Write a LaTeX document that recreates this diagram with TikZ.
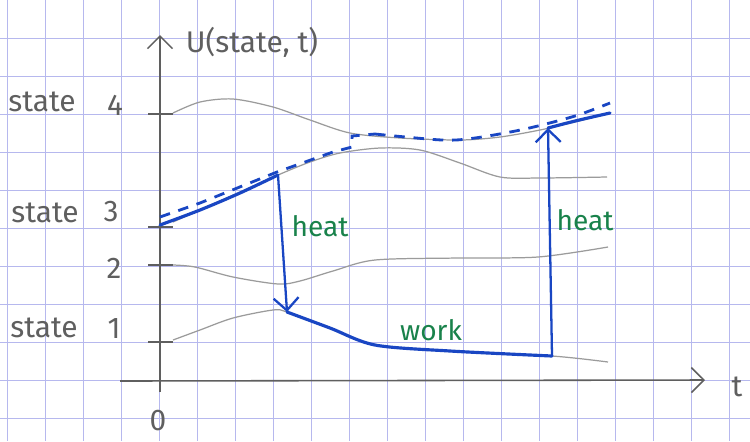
\documentclass[tikz,border=0pt]{standalone}
\usepackage{fontspec}
\setmainfont{Fira Sans}
\usetikzlibrary{arrows.meta}
\definecolor{GridLilac}{RGB}{182,184,238}
\definecolor{PenBlue}{RGB}{25,70,195}
\definecolor{PenGreen}{RGB}{25,130,75}
\definecolor{LevelGray}{RGB}{155,155,155}
\definecolor{PencilGray}{RGB}{95,95,95}
\tikzset{
  gridline/.style={draw=GridLilac, line width=0.5pt},
  level/.style={draw=LevelGray, line width=0.7pt},
  axis/.style={draw=PencilGray, line width=0.9pt},
  axtip/.style={axis, -{Straight Barb[length=2.5mm, width=5mm]}},
  cyc/.style={draw=PenBlue, line width=1.8pt, line cap=round},
  cycarr/.style={draw=PenBlue, line width=1.3pt, -{Straight Barb[length=2.5mm, width=5mm]}},
  cycdash/.style={draw=PenBlue, line width=1.6pt, dash pattern=on 6pt off 5pt},
  lbl/.style={text=PencilGray, font=\fontsize{17}{18}\selectfont, inner sep=0pt},
  heatlbl/.style={text=PenGreen, font=\fontsize{16}{18}\selectfont, inner sep=0pt}
}

\begin{document}
\begin{tikzpicture}[x=0.02cm, y=-0.02cm]
\useasboundingbox[fill=white] (0,0) rectangle (750,441);

% squared paper
\foreach \gx in {7,45,...,729}
  \draw[gridline] (\gx,0) -- (\gx,441);
\foreach \gy in {38,76,...,418}
  \draw[gridline] (0,\gy) -- (750,\gy);

% axes
\coordinate (yfoot) at (160,392);
\coordinate (ytop) at (160,35);
\coordinate (xfoot) at (120,381);
\coordinate (xtip) at (705,380);
\draw[axtip] (yfoot) -- (ytop);
\draw[axtip] (xfoot) -- (xtip);
\foreach \ty in {114,227,265,342}
  \draw[axis] (148,\ty) -- (173,\ty);

% energy levels
\draw[level] plot[smooth] coordinates {(173,113) (200,102) (233,99) (273,107) (310,120) (350,133) (400,138) (460,140) (500,137) (540,130) (575,122) (610,113)};
\draw[level] plot[smooth] coordinates {(173,222) (240,192) (278,175) (310,162) (340,153) (380,148) (420,150) (460,163) (500,177) (540,178) (607,177)};
\draw[level] plot[smooth] coordinates {(173,265) (195,267) (233,277) (278,284) (300,281) (333,271) (375,260) (458,258) (538,257) (608,247)};
\draw[level] plot[smooth] coordinates {(173,340) (200,330) (233,318) (273,310) (287,312) (330,328) (375,345) (450,351) (552,356) (608,362)};

% cycle
\coordinate (A) at (160,225);
\coordinate (B) at (278,175);
\coordinate (C) at (287,312);
\coordinate (D) at (552,356);
\coordinate (E) at (548,128);
\coordinate (F) at (610,113);
\draw[cyc] plot[smooth] coordinates {(A) (200,210) (240,193) (B)};
\draw[cycarr] (B) -- (C);
\draw[cyc] plot[smooth] coordinates {(C) (330,328) (375,345) (450,351) (D)};
\draw[cycarr] (D) -- (E);
\draw[cyc] plot[smooth] coordinates {(E) (575,121) (F)};
\draw[cycdash] (160,217) -- (200,203) -- (277,172) -- (333,152) -- (352,147) -- (352,136)
  -- (375,134) plot[smooth] coordinates {(375,134) (442,140) (475,138) (525,129) (575,116) (610,103)};

% labels
\node[lbl] (ulbl) at (252,42) {U(state, t)};
\node[lbl] (s4) at (42,102) {state};
\node[lbl] (n4) at (115,105) {4};
\node[lbl] (s3) at (45,213) {state};
\node[lbl] (n3) at (111,212) {3};
\node[lbl] (n2) at (114,268) {2};
\node[lbl] (s1) at (44,328) {state};
\node[lbl] (n1) at (114,328) {1};
\node[lbl] (zero) at (158,421) {0};
\node[lbl] (tlbl) at (737,387) {t};
\node[heatlbl] (heatdown) at (320,226) {heat};
\node[heatlbl] (heatup) at (585,220) {heat};
\node[heatlbl] (work) at (431,330) {work};
\end{tikzpicture}
\end{document}
